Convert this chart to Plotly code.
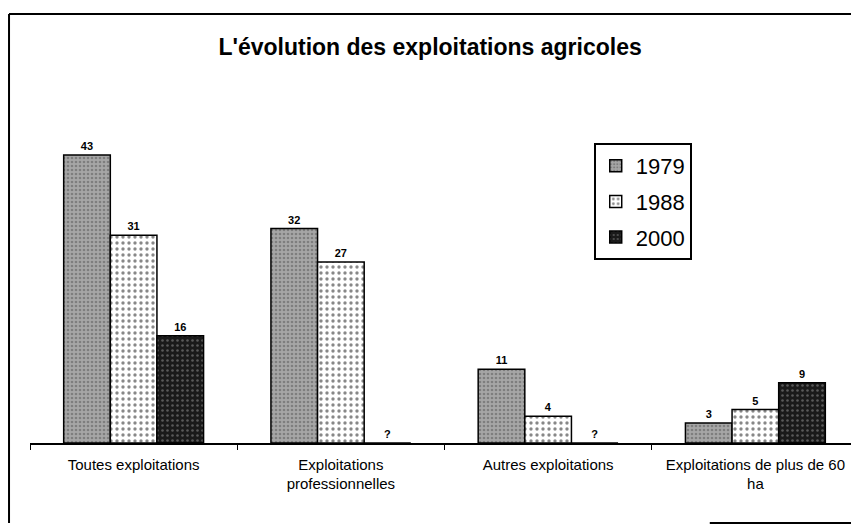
import plotly.graph_objects as go

categories = ['Toutes exploitations', 'Exploitations<br>professionnelles',
              'Autres exploitations', 'Exploitations de plus de 60<br>ha']
years = ['1979', '1988', '2000']
v1979 = [43, 32, 11, 3]
v1988 = [31, 27, 4, 5]
v2000 = [16, None, None, 9]

styles = {
    '1979': dict(color='#a6a6a6', fg='#555555', size=4, sol=0.35),
    '1988': dict(color='#ffffff', fg='#111111', size=6, sol=0.25),
    '2000': dict(color='#1a1a1a', fg='#9a9a9a', size=5, sol=0.2),
}

fig = go.Figure()
for year, vals in zip(years, [v1979, v1988, v2000]):
    st = styles[year]
    fig.add_trace(go.Bar(
        name=year,
        legendgroup=year,
        x=categories,
        y=[v if v is not None else 0 for v in vals],
        text=[str(v) if v is not None else '?' for v in vals],
        textposition='outside',
        cliponaxis=False,
        textfont=dict(size=11, color='black', weight='bold'),
        marker=dict(
            color=st['color'],
            line=dict(color='black', width=1.5),
            pattern=dict(shape='.', fgcolor=st['fg'], size=st['size'],
                         solidity=st['sol'], fillmode='overlay'),
        ),
    ))

# frame around the chart (scan border, bottom only partly visible)
frame = [
    dict(x0=-0.0253, x1=0.995, y0=1.2806, y1=1.2806),
    dict(x0=-0.0253, x1=-0.0253, y0=-0.2388, y1=1.2806),
    dict(x0=0.995, x1=0.995, y0=0.0, y1=1.2806),
    dict(x0=0.82, x1=0.995, y0=-0.2388, y1=-0.2388),
]
shapes = [dict(type='line', xref='paper', yref='paper',
               line=dict(color='black', width=2), **f) for f in frame]

fig.update_layout(
    width=851, height=517,
    margin=dict(l=22, r=0, t=100, b=82),
    paper_bgcolor='white', plot_bgcolor='white',
    font=dict(family='Arial, Liberation Sans, sans-serif', color='black'),
    title=dict(text="<b>L'évolution des exploitations agricoles</b>",
               x=0.496, xanchor='center', y=0.9246, yanchor='middle',
               font=dict(size=23)),
    barmode='group', bargap=0.325, bargroupgap=0,
    legend=dict(x=0.680, y=0.8955, xanchor='left', yanchor='top',
                bgcolor='white', bordercolor='black', borderwidth=2,
                font=dict(size=22), tracegroupgap=4, itemwidth=30),
    xaxis=dict(showline=True, linecolor='black', linewidth=1.5,
               ticks='outside', tickson='boundaries', ticklen=5,
               tickcolor='black', tickfont=dict(size=15),
               ticklabelstandoff=7),
    yaxis=dict(range=[0, 50], visible=False, showgrid=False, zeroline=False),
    shapes=shapes,
)

fig.write_html("out.html")
